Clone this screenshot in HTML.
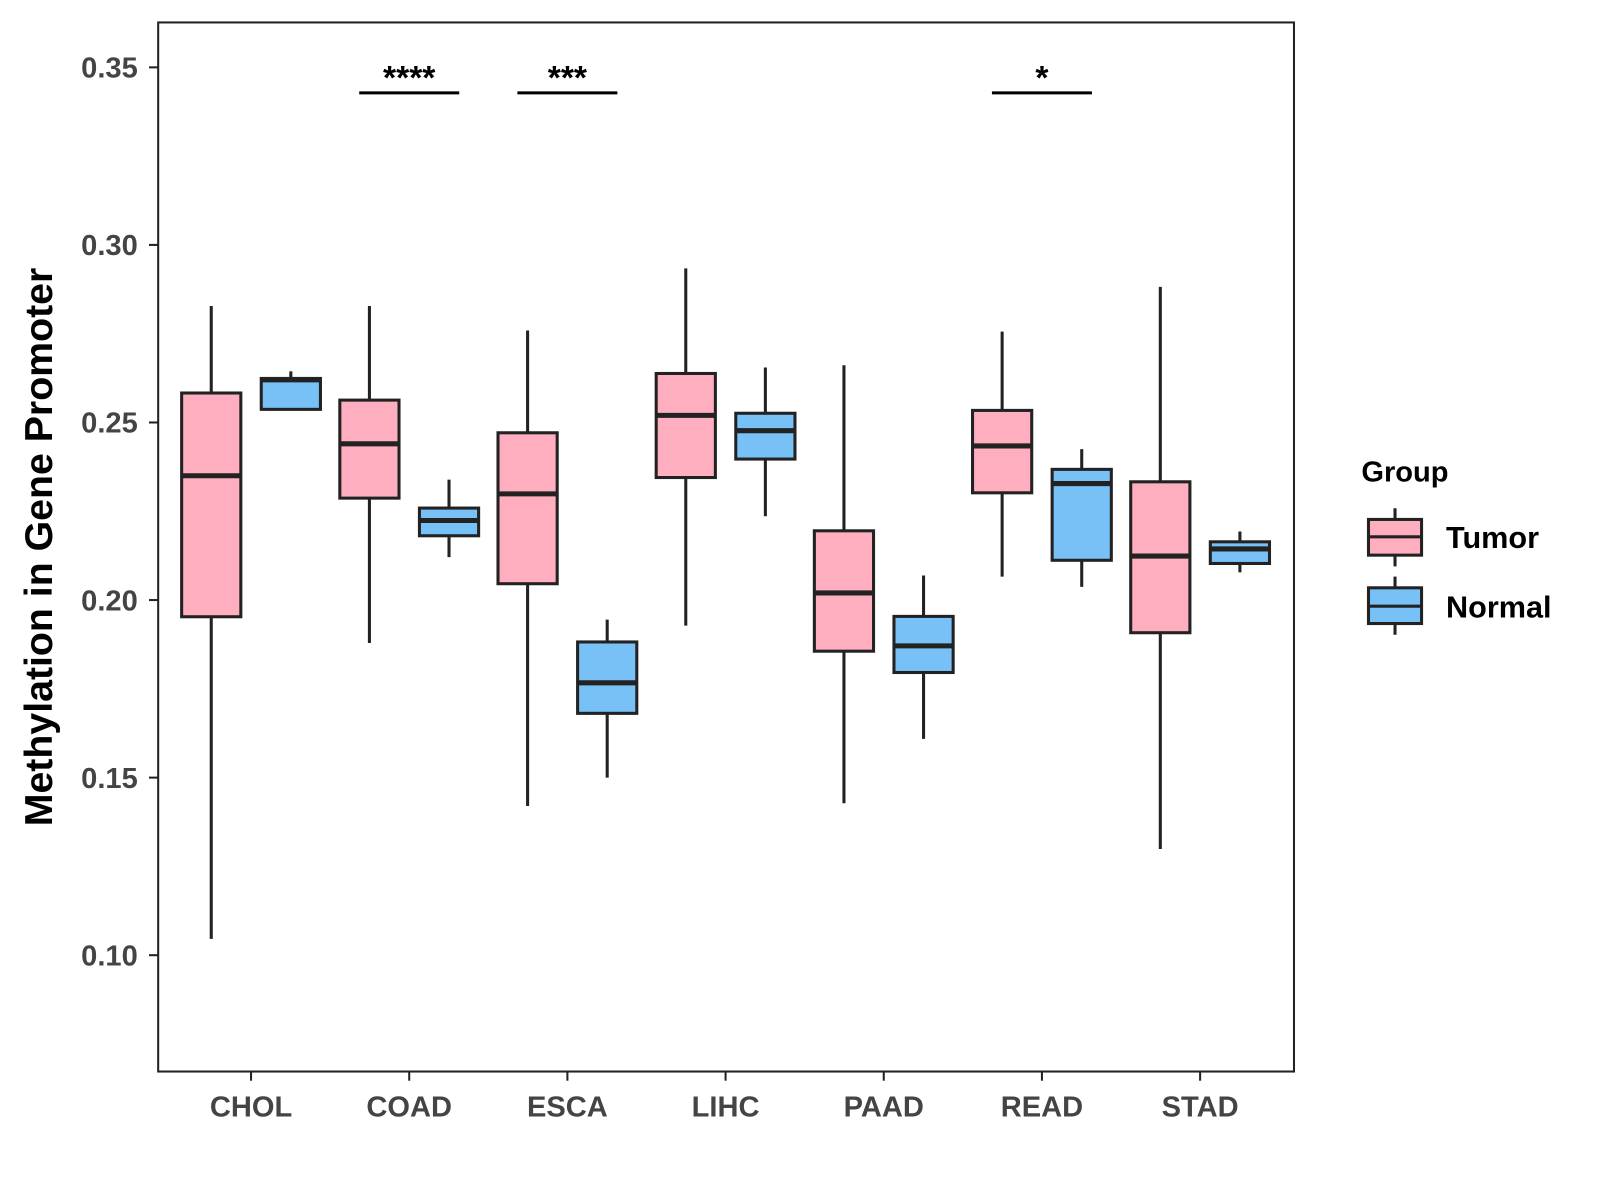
<!DOCTYPE html>
<html><head><meta charset="utf-8"><style>
html,body{margin:0;padding:0;background:#fff;}
svg{display:block;font-family:"Liberation Sans",Arial,sans-serif;}
</style></head><body>
<svg id="chart" width="1600" height="1200" viewBox="0 0 1600 1200">
<rect x="0" y="0" width="1600" height="1200" fill="#fff"/>
<g transform="scale(1.0205)">
<rect x="155" y="22" width="1113" height="1028" fill="none" stroke="#222" stroke-width="2"/>
<g id="yaxis"></g>
<g id="xaxis"></g>
<g id="boxes"></g>
<g id="sig"></g>
<text x="51" y="536" transform="rotate(-90 51 536)" text-anchor="middle" font-size="38.5" font-weight="bold" fill="#000">Methylation in Gene Promoter</text>
<g>
<text x="1334" y="472" font-size="28.5" font-weight="bold" fill="#000">Group</text>
<g>
<line x1="1367" y1="498" x2="1367" y2="555" stroke="#222" stroke-width="3"/>
<rect x="1341" y="509" width="52" height="35" fill="#FFAEC0" stroke="#222" stroke-width="3"/>
<line x1="1341" y1="526" x2="1393" y2="526" stroke="#222" stroke-width="3"/>
<text x="1417" y="537" font-size="30" font-weight="bold" fill="#000">Tumor</text>
</g>
<g>
<line x1="1367" y1="565" x2="1367" y2="622" stroke="#222" stroke-width="3"/>
<rect x="1341" y="576" width="52" height="35" fill="#77C1F7" stroke="#222" stroke-width="3"/>
<line x1="1341" y1="594" x2="1393" y2="594" stroke="#222" stroke-width="3"/>
<text x="1417" y="605" font-size="30" font-weight="bold" fill="#000">Normal</text>
</g>
</g>
</g>
</svg>
<script>
const categories = ["CHOL","COAD","ESCA","LIHC","PAAD","READ","STAD"];
// [max, q3, median, q1, min]
const tumorStats = [
 [0.2828,0.2583,0.2350,0.1953,0.1046],
 [0.2828,0.2563,0.2440,0.2287,0.1879],
 [0.2759,0.2471,0.2299,0.2046,0.1420],
 [0.2934,0.2638,0.2520,0.2345,0.1928],
 [0.2661,0.2195,0.2020,0.1856,0.1428],
 [0.2756,0.2534,0.2434,0.2302,0.2066],
 [0.2882,0.2333,0.2124,0.1908,0.1299]
];
const normalStats = [
 [0.2644,0.2624,0.2620,0.2537,0.2537],
 [0.2339,0.2259,0.2224,0.2181,0.2121],
 [0.1945,0.1882,0.1767,0.1681,0.1500],
 [0.2655,0.2526,0.2477,0.2397,0.2236],
 [0.2069,0.1954,0.1871,0.1796,0.1609],
 [0.2425,0.2368,0.2328,0.2112,0.2037],
 [0.2193,0.2164,0.2144,0.2103,0.2078]
];
const yTicks = [0.10,0.15,0.20,0.25,0.30,0.35];
const yTickLabels = ["0.10","0.15","0.20","0.25","0.30","0.35"];
const sigCategories = ["COAD","ESCA","READ"];
const sigLabels = ["****","***","*"];

const NS="http://www.w3.org/2000/svg";
const y = v => 66 + (0.35 - v) / 0.05 * 174;
const x = i => 246 + i * 155;
function mk(tag, attrs, parent){const e=document.createElementNS(NS,tag);for(const k in attrs)e.setAttribute(k,attrs[k]);parent.appendChild(e);return e;}
const ya=document.getElementById('yaxis'), xa=document.getElementById('xaxis'), bx=document.getElementById('boxes'), sg=document.getElementById('sig');
yTicks.forEach((t,i)=>{
  const tk=mk('line',{x1:146,x2:155,y1:y(t),y2:y(t),stroke:'#222','stroke-width':2},ya);
  
  
  const tx=mk('text',{x:135,y:y(t)+10,'text-anchor':'end','font-size':28.5,'font-weight':'bold',fill:'#444'},ya);
  tx.textContent=yTickLabels[i];
  
  
});
categories.forEach((c,i)=>{
  const tk=mk('line',{x1:x(i),x2:x(i),y1:1050,y2:1059,stroke:'#222','stroke-width':2},xa);
  
  
  const tx=mk('text',{x:x(i),y:1094,'text-anchor':'middle','font-size':28.5,'font-weight':'bold',fill:'#444'},xa);
  tx.textContent=c;
  
  
});
function drawBox(cx, s, fill, name){
  const g=mk('g',{},bx);
  
  
  const w=58;
  mk('line',{x1:cx,x2:cx,y1:y(s[0]),y2:y(s[4]),stroke:'#222','stroke-width':3},g);
  mk('rect',{x:cx-w/2,y:y(s[1]),width:w,height:Math.max(0,y(s[3])-y(s[1])),fill:fill,stroke:'#222','stroke-width':3},g);
  mk('line',{x1:cx-w/2,x2:cx+w/2,y1:y(s[2]),y2:y(s[2]),stroke:'#222','stroke-width':5},g);
}
categories.forEach((c,i)=>{
  drawBox(x(i)-39, tumorStats[i], '#FFAEC0', 'box-tumor-'+c.toLowerCase());
  drawBox(x(i)+39, normalStats[i], '#77C1F7', 'box-normal-'+c.toLowerCase());
});
sigCategories.forEach((c,j)=>{
  const i=categories.indexOf(c);
  const ln=mk('line',{x1:x(i)-49,x2:x(i)+49,y1:91,y2:91,stroke:'#000','stroke-width':3},sg);
  
  
  const tx=mk('text',{x:x(i),y:87,'text-anchor':'middle','font-size':33,'font-weight':'bold',fill:'#000'},sg);
  tx.textContent=sigLabels[j];
  
  
});
</script>
</body></html>
